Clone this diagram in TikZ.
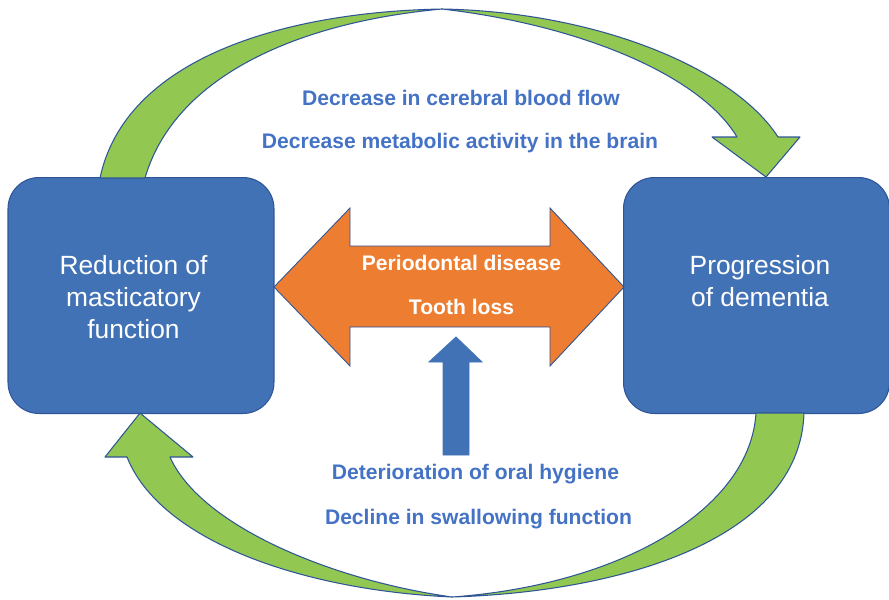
\documentclass[tikz,border=0pt]{standalone}
\usepackage{fontspec}
\setmainfont{Liberation Sans}
\usepackage{tikz}
\usetikzlibrary{positioning}

\definecolor{boxblue}{RGB}{66,114,182}
\definecolor{edgeblue}{RGB}{47,85,151}
\definecolor{textblue}{RGB}{68,114,196}
\definecolor{leafgreen}{RGB}{146,200,81}
\definecolor{toothorange}{RGB}{237,125,49}

\begin{document}
\begin{tikzpicture}[
  x=0.02cm, y=-0.02cm,
  box/.style={draw=edgeblue, line width=0.6pt, fill=boxblue, rounded corners=0.62cm,
    minimum width=5.32cm, minimum height=4.72cm, inner sep=0pt},
  boxtext/.style={text=white, align=center, font=\fontsize{15}{18}\selectfont},
  cause/.style={text=textblue, anchor=base, font=\bfseries\fontsize{12}{14}\selectfont},
  inside/.style={text=white, anchor=base, font=\bfseries\fontsize{12}{14}\selectfont},
  loop/.style={fill=leafgreen, draw=edgeblue, line width=0.6pt, line join=round}
]
\useasboundingbox (0,0) rectangle (889,599);

% the two states
\node[box] (mast) at (141,295.5) {};
\node[box] (dem) at (756.5,295.5) {};
\node[boxtext] (masttext) at (133.5,297) {Reduction of\\masticatory\\function};
\node[boxtext] (demtext) at (760,281) {Progression\\of dementia};

% upper loop
\path[loop] (100,178) .. controls (125,60) and (280,12) .. (442,9)
  .. controls (300,22) and (175,75) .. (145,178) -- cycle;
\path[loop] (442,9) .. controls (600,12) and (735,70) .. (778,137)
  -- (800,137) -- (766,177) -- (712,137) -- (737,137)
  .. controls (700,75) and (580,25) .. (442,9) -- cycle;

% lower loop
\path[loop] (804,413) .. controls (800,540) and (620,592) .. (452,597)
  .. controls (620,585) and (750,510) .. (756,413) -- cycle;
\path[loop] (452,597) .. controls (300,590) and (160,540) .. (127,457)
  -- (105,457) -- (140,413) -- (193,457) -- (170,457)
  .. controls (200,525) and (330,580) .. (452,597) -- cycle;

% oral factors
\path[fill=toothorange, draw=edgeblue, line width=0.5pt]
  (274,287) -- (350,208) -- (350,246) -- (550,246) -- (550,208) -- (624,287)
  -- (550,366) -- (550,327) -- (350,327) -- (350,366) -- cycle;
\path[fill=boxblue, draw=boxblue, line width=0.5pt]
  (443,455) -- (443,362) -- (429,362) -- (456,337) -- (482,362)
  -- (469,362) -- (469,455) -- cycle;

% labels
\node[cause] (cbf) at (461,105) {Decrease in cerebral blood flow};
\node[cause] (meta) at (460,148) {Decrease metabolic activity in the brain};
\node[inside] (perio) at (461.5,270) {Periodontal disease};
\node[inside] (tooth) at (461.5,314) {Tooth loss};
\node[cause] (oral) at (475.5,479) {Deterioration of oral hygiene};
\node[cause] (swal) at (478.5,524) {Decline in swallowing function};

\end{tikzpicture}
\end{document}
